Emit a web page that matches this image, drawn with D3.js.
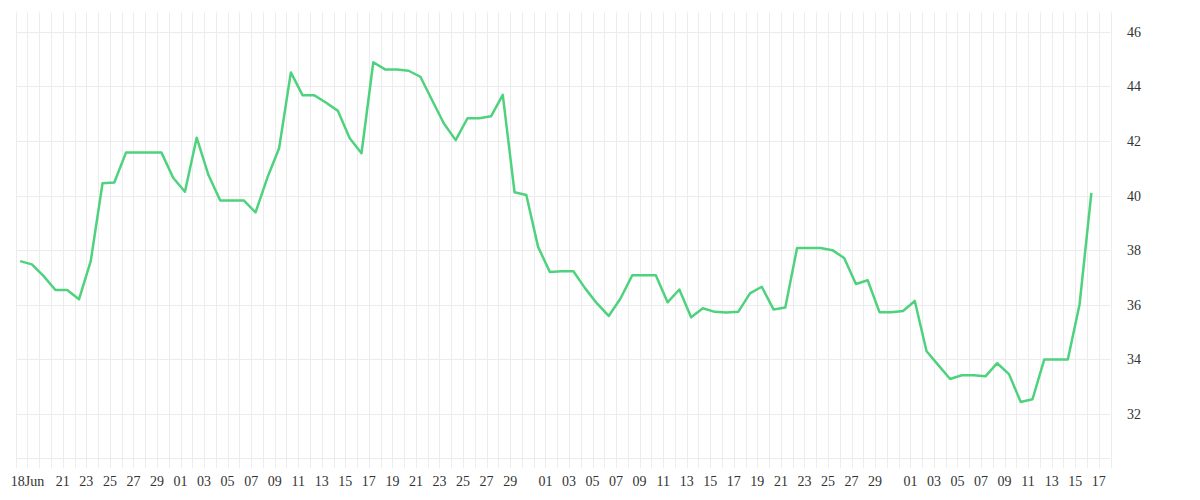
<!DOCTYPE html>
<html>
<head>
<meta charset="utf-8">
<script src="https://cdn.jsdelivr.net/npm/d3@7"></script>
<style>
  html, body { margin: 0; padding: 0; background: #ffffff; }
  svg { display: block; }
  text { font-family: "Liberation Serif", "Times New Roman", serif; fill: #333; }
</style>
</head>
<body>
<svg id="chart" width="1200" height="500"></svg>
<script>
// ---- data ----
const startDate = "2024-06-18";
const values = [
  37.60, 37.48, 37.05, 36.54, 36.54, 36.20, 37.60, 40.45, 40.48, 41.58,
  41.58, 41.58, 41.58, 40.65, 40.14, 42.12, 40.75, 39.82, 39.82, 39.82,
  39.38, 40.65, 41.73, 44.51, 43.67, 43.67, 43.40, 43.10, 42.10, 41.55,
  44.88, 44.62, 44.62, 44.57, 44.35, 43.49, 42.64, 42.03, 42.83, 42.83,
  42.90, 43.69, 40.12, 40.02, 38.12, 37.20, 37.23, 37.23, 36.60, 36.05,
  35.59, 36.23, 37.08, 37.08, 37.08, 36.09, 36.56, 35.54, 35.87, 35.74,
  35.72, 35.74, 36.42, 36.66, 35.83, 35.90, 38.08, 38.08, 38.08, 38.00,
  37.71, 36.76, 36.90, 35.73, 35.73, 35.77, 36.14, 34.30, 33.79, 33.28,
  33.42, 33.42, 33.38, 33.86, 33.46, 32.44, 32.54, 34.00, 34.00, 34.00,
  36.02, 40.10
];
const xTicks = [
  "06-18", "06-21", "06-23", "06-25", "06-27", "06-29",
  "07-01", "07-03", "07-05", "07-07", "07-09", "07-11", "07-13", "07-15",
  "07-17", "07-19", "07-21", "07-23", "07-25", "07-27", "07-29",
  "08-01", "08-03", "08-05", "08-07", "08-09", "08-11", "08-13", "08-15",
  "08-17", "08-19", "08-21", "08-23", "08-25", "08-27", "08-29",
  "09-01", "09-03", "09-05", "09-07", "09-09", "09-11", "09-13", "09-15", "09-17"
];
const yTicks = [32, 34, 36, 38, 40, 42, 44, 46];

// ---- build ----
const svg = d3.select("#chart");
const parse = d3.utcParse("%Y-%m-%d");
const day0 = parse(startDate);
const data = values.map((v, i) => ({
  date: d3.utcHour.offset(d3.utcDay.offset(day0, i), 9),
  value: v
}));
const dayEnd = d3.utcDay.offset(day0, values.length + 1);

const pLeft = 15.7, pRight = 1110.5, pTop = 12.5, pBottom = 458;
const x = d3.scaleUtc().domain([day0, dayEnd]).range([pLeft, pRight]);
const y = d3.scaleLinear().domain([32, 46]).range([414, 31.7]);

const grid = svg.append("g").attr("stroke", "#ececec").attr("stroke-width", 1);
// vertical day grid
const days = d3.utcDay.range(day0, d3.utcDay.offset(dayEnd, 1));
grid.selectAll("line.v").data(days).join("line")
  .attr("x1", d => Math.round(x(d)) + 0.5).attr("x2", d => Math.round(x(d)) + 0.5)
  .attr("y1", pTop).attr("y2", pBottom + 10);
// horizontal grid
grid.selectAll("line.h").data(yTicks).join("line")
  .attr("x1", pLeft).attr("x2", pRight)
  .attr("y1", d => Math.round(y(d)) + 0.5).attr("y2", d => Math.round(y(d)) + 0.5);
grid.append("line").attr("x1", pLeft).attr("x2", pRight)
  .attr("y1", pBottom + 0.5).attr("y2", pBottom + 0.5);

// y axis (right)
const yAxis = d3.axisRight(y).tickValues(yTicks).tickSize(0).tickPadding(0).tickFormat(d3.format("d"));
const ya = svg.append("g").attr("transform", `translate(${1127},0)`).call(yAxis);
ya.select(".domain").remove();
ya.selectAll("text").attr("font-size", 14).attr("font-family", "Liberation Serif, serif").attr("fill", "#333");

// x axis labels
const year = startDate.slice(0, 4);
const tickDates = xTicks.map(s => parse(year + "-" + s));
const fmtFirst = d3.utcFormat("%d%b");
const fmt = d3.utcFormat("%d");
const xAxis = d3.axisBottom(x).tickValues(tickDates).tickSize(0).tickPadding(0)
  .tickFormat((d, i) => i === 0 ? fmtFirst(d) : fmt(d));
const xa = svg.append("g").attr("transform", `translate(0,${476})`).call(xAxis);
xa.select(".domain").remove();
xa.selectAll(".tick").attr("transform", d => `translate(${x(d3.utcDay.offset(d, 1))},0)`);
xa.selectAll("text").attr("font-size", 14).attr("font-family", "Liberation Serif, serif").attr("fill", "#333");

// line
const line = d3.line().x(d => x(d.date)).y(d => y(d.value));
svg.append("path").datum(data)
  .attr("fill", "none")
  .attr("stroke", "#4fd27e")
  .attr("stroke-width", 2.5)
  .attr("stroke-linejoin", "round")
  .attr("d", line);
</script>
</body>
</html>
